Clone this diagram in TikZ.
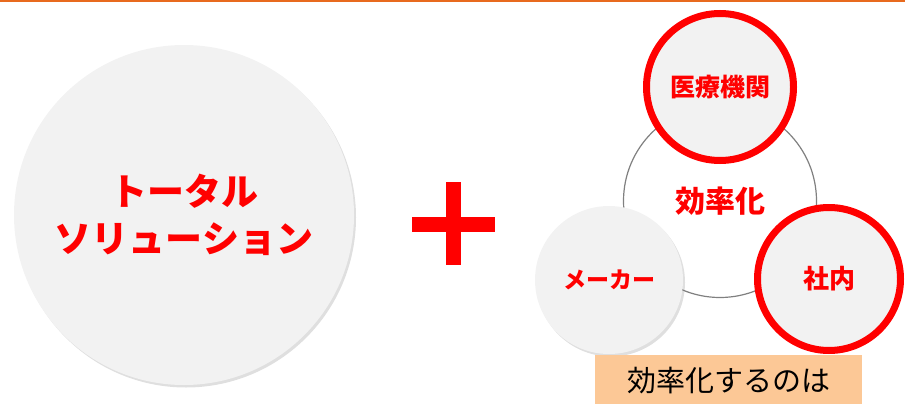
\documentclass[tikz,border=0pt]{standalone}
\usepackage{fontspec}
\newfontfamily\jpfont{Noto Sans CJK JP}
\usetikzlibrary{shadows}
\definecolor{jred}{RGB}{255,0,0}
\definecolor{topline}{RGB}{232,106,30}
\definecolor{peach}{RGB}{252,200,150}
\definecolor{disc}{RGB}{242,242,242}
\tikzset{
  disc/.style={circle, inner sep=0, fill=disc, text=jred, font=\jpfont\bfseries, align=center,
    drop shadow={shadow xshift=2pt, shadow yshift=-2.5pt, opacity=.25}},
  ringdisc/.style={disc, draw=jred, line width=7pt},
  hub/.style={circle, inner sep=0, draw=black!50, line width=1.2pt, fill=white, text=jred, font=\jpfont\bfseries},
  plusbar/.style={fill=jred, draw=none},
  caption/.style={rectangle, fill=peach, inner sep=0, font=\jpfont\fontsize{29}{32}\selectfont}
}
\begin{document}
\begin{tikzpicture}[x=1pt,y=-1pt]
    \useasboundingbox (0,0) rectangle (905,404);
    \draw[topline, line width=2pt] (0,1) -- (905,1);

    \node[disc, minimum size=340pt, font=\jpfont\bfseries\fontsize{37}{47}\selectfont] (total) at (184,215) {トータル\\ソリューション};

    % plus sign
    \fill[plusbar] (445.5,182) rectangle (460.5,265);
    \fill[plusbar] (412,216.5) rectangle (495,231.5);

    \node[hub, minimum size=193pt, font=\jpfont\bfseries\fontsize{30}{32}\selectfont] (eff) at (720,201) {効率化};
    \node[ringdisc, minimum size=147pt, font=\jpfont\bfseries\fontsize{25}{28}\selectfont] (iryo) at (720,87) {医療機関};
    \node[disc, minimum size=148pt, font=\jpfont\bfseries\fontsize{23}{26}\selectfont] (maker) at (609,280) {メーカー};
    \node[ringdisc, minimum size=143pt, font=\jpfont\bfseries\fontsize{26}{28}\selectfont] (shanai) at (829,279) {社内};

    \node[caption, minimum width=267pt, minimum height=52pt] (who) at (728.5,381) {効率化するのは};
\end{tikzpicture}
\end{document}
